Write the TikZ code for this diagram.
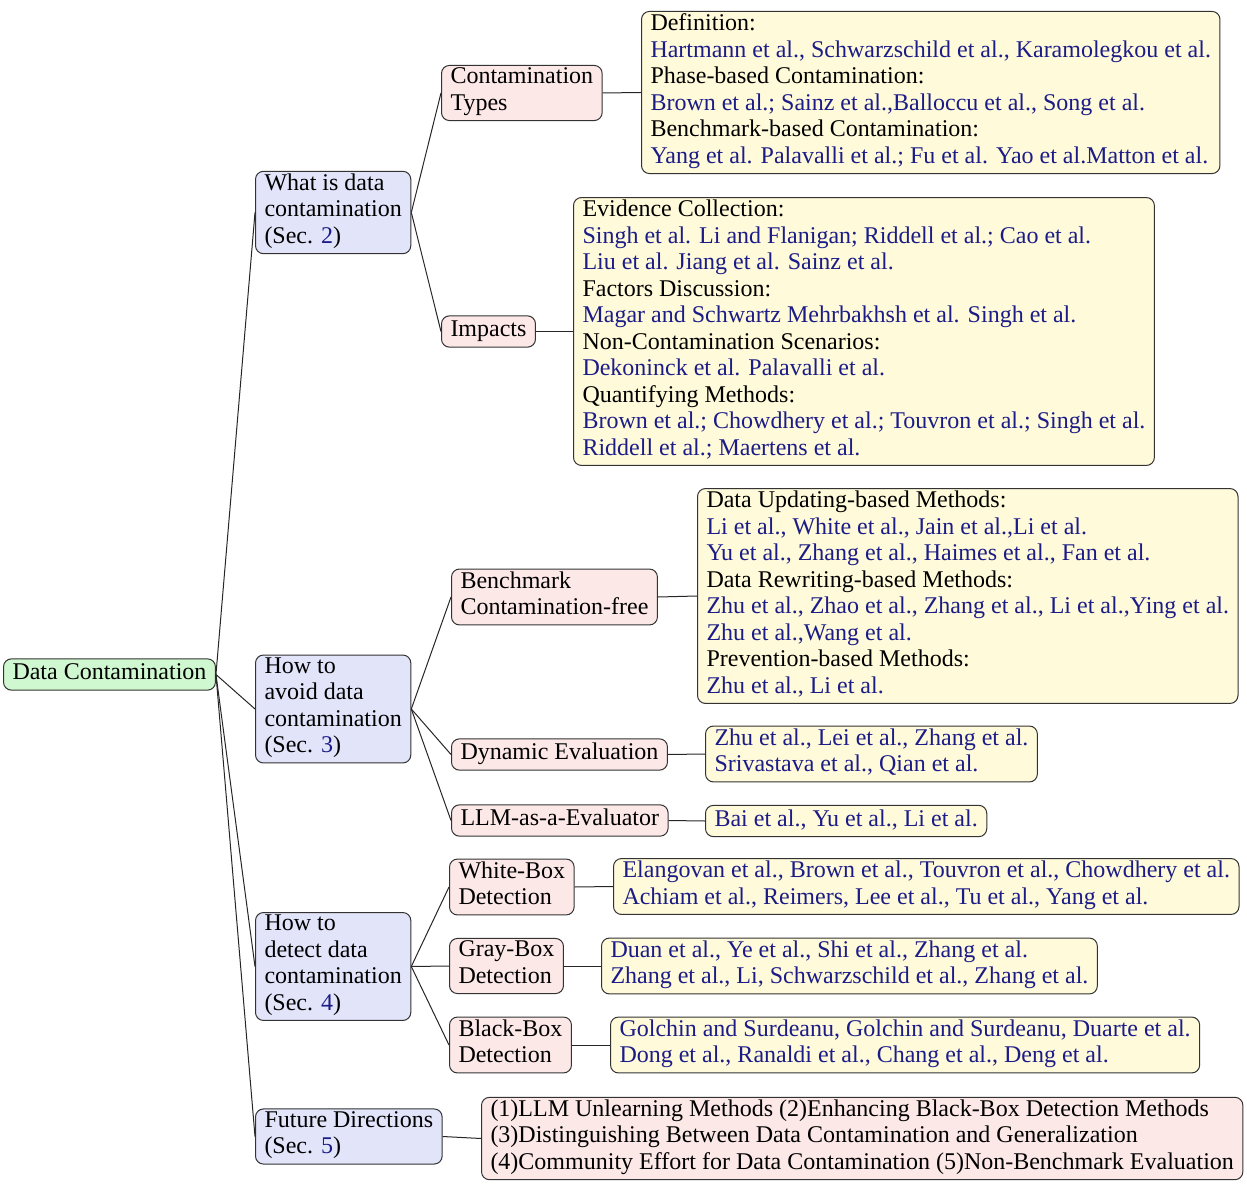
\documentclass[tikz,border=0pt]{standalone}
\usepackage{fontspec}
\setmainfont{Liberation Serif}
\definecolor{cb}{RGB}{28,28,135}
\definecolor{rootfill}{RGB}{208,248,208}
\definecolor{lonefill}{RGB}{226,228,250}
\definecolor{ltwofill}{RGB}{253,232,232}
\definecolor{leaffill}{RGB}{255,251,218}
\newcommand{\ct}[1]{\textcolor{cb}{#1}}
\begin{document}
\begin{tikzpicture}[x=0.5pt,y=-0.5pt,
  font=\fontsize{12}{13.25}\selectfont,
  box/.style={draw=black!80, line width=0.5pt, rounded corners=4pt, anchor=west,
    align=left, inner xsep=4.5pt, inner ysep=1.2pt,
    execute at begin node=\strut, execute at end node=\strut},
  rootbox/.style={box, fill=rootfill},
  lonebox/.style={box, fill=lonefill},
  ltwobox/.style={box, fill=ltwofill},
  leafbox/.style={box, fill=leaffill},
  edge/.style={draw=black!85, line width=0.5pt}]
\useasboundingbox (0,0) rectangle (1247,1187);

% root
\node[rootbox] (root) at (3,674.5) {Data Contamination};

% level 1
\node[lonebox] (what) at (255,212.5) {What is data\\contamination\\(Sec. \ct{2})};
\node[lonebox] (avoid) at (255,709) {How to\\avoid data\\contamination\\(Sec. \ct{3})};
\node[lonebox] (detect) at (255,966.5) {How to\\detect data\\contamination\\(Sec. \ct{4})};
\node[lonebox] (future) at (255,1136.5) {Future Directions\\(Sec. \ct{5})};

% level 2
\node[ltwobox] (types) at (441,93) {Contamination\\Types};
\node[ltwobox] (impacts) at (441,331.5) {Impacts};
\node[ltwobox] (bench) at (451,597) {Benchmark\\Contamination-free};
\node[ltwobox] (dyn) at (451,754.5) {Dynamic Evaluation};
\node[ltwobox] (llm) at (451,820.5) {LLM-as-a-Evaluator};
\node[ltwobox] (white) at (449,887) {White-Box\\Detection};
\node[ltwobox] (gray) at (449,966) {Gray-Box\\Detection};
\node[ltwobox] (black) at (449,1045) {Black-Box\\Detection};

% leaves
\node[leafbox] (ltypes) at (641,92.5) {Definition:\\
\ct{Hartmann et al., Schwarzschild et al., Karamolegkou et al.}\\
Phase-based Contamination:\\
\ct{Brown et al.; Sainz et al.,Balloccu et al., Song et al.}\\
Benchmark-based Contamination:\\
\ct{Yang et al. Palavalli et al.; Fu et al. Yao et al.Matton et al.}};

\node[leafbox] (limpacts) at (573,331.5) {Evidence Collection:\\
\ct{Singh et al. Li and Flanigan; Riddell et al.; Cao et al.}\\
\ct{Liu et al. Jiang et al. Sainz et al.}\\
Factors Discussion:\\
\ct{Magar and Schwartz Mehrbakhsh et al. Singh et al.}\\
Non-Contamination Scenarios:\\
\ct{Dekoninck et al. Palavalli et al.}\\
Quantifying Methods:\\
\ct{Brown et al.; Chowdhery et al.; Touvron et al.; Singh et al.}\\
\ct{Riddell et al.; Maertens et al.}};

\node[leafbox] (lbench) at (697,596) {Data Updating-based Methods:\\
\ct{Li et al., White et al., Jain et al.,Li et al.}\\
\ct{Yu et al., Zhang et al., Haimes et al., Fan et al.}\\
Data Rewriting-based Methods:\\
\ct{Zhu et al., Zhao et al., Zhang et al., Li et al.,Ying et al.}\\
\ct{Zhu et al.,Wang et al.}\\
Prevention-based Methods:\\
\ct{Zhu et al., Li et al.}};

\node[leafbox] (ldyn) at (705,754) {\ct{Zhu et al., Lei et al., Zhang et al.}\\
\ct{Srivastava et al., Qian et al.}};
\node[leafbox] (lllm) at (705,821) {\ct{Bai et al., Yu et al., Li et al.}};

\node[leafbox] (lwhite) at (613,886.5) {\ct{Elangovan et al., Brown et al., Touvron et al., Chowdhery et al.}\\
\ct{Achiam et al., Reimers, Lee et al., Tu et al., Yang et al.}};
\node[leafbox] (lgray) at (601,966) {\ct{Duan et al., Ye et al., Shi et al., Zhang et al.}\\
\ct{Zhang et al., Li, Schwarzschild et al., Zhang et al.}};
\node[leafbox] (lblack) at (610,1045) {\ct{Golchin and Surdeanu, Golchin and Surdeanu, Duarte et al.}\\
\ct{Dong et al., Ranaldi et al., Chang et al., Deng et al.}};

\node[ltwobox] (lfuture) at (481,1138.5) {(1)LLM Unlearning Methods (2)Enhancing Black-Box Detection Methods\\
(3)Distinguishing Between Data Contamination and Generalization\\
(4)Community Effort for Data Contamination (5)Non-Benchmark Evaluation};

% connectors
\foreach \c in {what,avoid,detect,future}
  \draw[edge] (root.east) -- (\c.west);
\foreach \c in {types,impacts}
  \draw[edge] (what.east) -- (\c.west);
\foreach \c in {bench,dyn,llm}
  \draw[edge] (avoid.east) -- (\c.west);
\foreach \c in {white,gray,black}
  \draw[edge] (detect.east) -- (\c.west);
\draw[edge] (types.east) -- (ltypes.west);
\draw[edge] (impacts.east) -- (limpacts.west);
\draw[edge] (bench.east) -- (lbench.west);
\draw[edge] (dyn.east) -- (ldyn.west);
\draw[edge] (llm.east) -- (lllm.west);
\draw[edge] (white.east) -- (lwhite.west);
\draw[edge] (gray.east) -- (lgray.west);
\draw[edge] (black.east) -- (lblack.west);
\draw[edge] (future.east) -- (lfuture.west);
\end{tikzpicture}
\end{document}
